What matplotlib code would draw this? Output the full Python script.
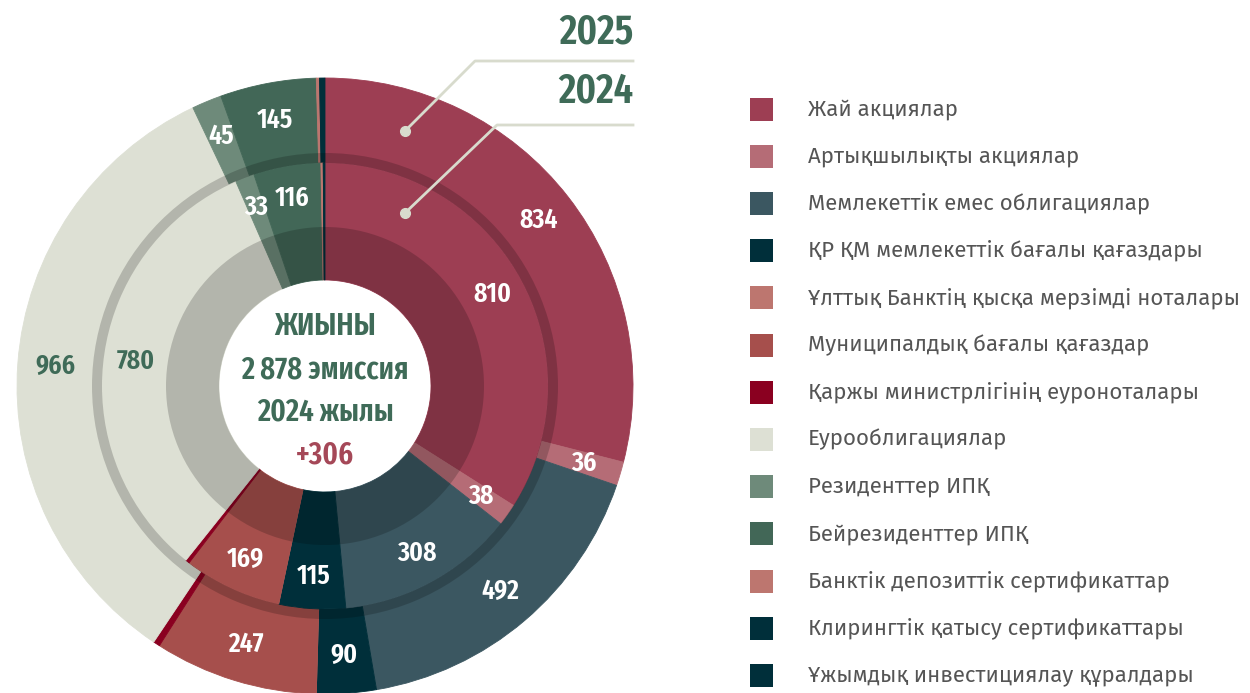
import numpy as np
import matplotlib

matplotlib.use('Agg')
import matplotlib.pyplot as plt
from matplotlib.patches import Wedge, Rectangle

# ---- data ----
categories = [
    'Жай акциялар',
    'Артықшылықты акциялар',
    'Мемлекеттік емес облигациялар',
    'ҚР ҚМ мемлекеттік бағалы қағаздары',
    'Ұлттық Банктің қысқа мерзімді ноталары',
    'Муниципалдық бағалы қағаздар',
    'Қаржы министрлігінің еуроноталары',
    'Еурооблигациялар',
    'Резиденттер ИПҚ',
    'Бейрезиденттер ИПҚ',
    'Банктік депозиттік сертификаттар',
    'Клирингтік қатысу сертификаттары',
    'Ұжымдық инвестициялау құралдары',
]
vals_2025 = [834, 36, 492, 90, 0, 247, 10, 966, 45, 145, 5, 0, 8]
vals_2024 = [810, 38, 308, 115, 0, 169, 7, 780, 33, 116, 4, 0, 3]
total_2025 = 2878
diff = 306

colors = ['#9d3e53', '#b56c76', '#3b5761', '#002f3a', '#bd766f', '#a64f4c',
          '#8a0020', '#dde0d4', '#6e8a7a', '#426757', '#bd766f', '#002f3a', '#002f3a']
GREEN = '#3f6b58'
NUM_FONT = ['Fira Sans Extra Condensed', 'Fira Sans Condensed', 'Roboto Condensed',
            'PT Sans Narrow', 'DejaVu Sans']
NUM_W = 600
TXT_FONT = ['Fira Sans', 'Noto Sans', 'DejaVu Sans']

W, H = 1250, 693
fig = plt.figure(figsize=(W / 100, H / 100), dpi=100)
ax = fig.add_axes([0, 0, 1, 1])
ax.set_xlim(0, W)
ax.set_ylim(0, H)
ax.set_aspect('equal')
ax.axis('off')

cx, cy = 325, H - 386
R_OUT, R_MID, R_IN = 308, 223, 106


def ring(vals, radius, width):
    wedges, _ = ax.pie(vals, colors=colors, radius=radius, center=(cx, cy),
                       startangle=90, counterclock=False, frame=True,
                       wedgeprops=dict(width=width, linewidth=0.6))
    for w in wedges:
        w.set_edgecolor(w.get_facecolor())
    return wedges


def add_labels(vals, r_lab, size):
    tot = sum(vals)
    acc = 0
    for v, name in zip(vals, categories):
        mid = acc + v / 2
        acc += v
        if v < 20:
            continue
        ang = np.deg2rad(90 - mid / tot * 360)
        col = GREEN if name == 'Еурооблигациялар' else 'white'
        ax.text(cx + r_lab * np.cos(ang), cy + r_lab * np.sin(ang), str(v),
                ha='center', va='center', color=col, fontsize=size,
                fontweight=NUM_W, family=NUM_FONT)


ring(vals_2025, R_OUT, R_OUT - R_MID)
ring(vals_2024, R_MID, R_MID - R_IN)
# dark bands
ax.add_patch(Wedge((cx, cy), 233, 0, 360, width=10, facecolor='black', alpha=0.19, lw=0))
ax.add_patch(Wedge((cx, cy), 159, 0, 360, width=159 - R_IN, facecolor='black', alpha=0.19, lw=0))
ax.set_xlim(0, W)
ax.set_ylim(0, H)

add_labels(vals_2025, 270, 20)
add_labels(vals_2024, 191, 20)

# centre text
CS = 22.5
ax.text(cx, H - 327, 'ЖИЫНЫ', ha='center', va='center', color=GREEN,
        fontsize=CS, fontweight=NUM_W, family=NUM_FONT)
ax.text(cx, H - 370, f'{total_2025:,}'.replace(',', ' ') + ' эмиссия', ha='center',
        va='center', color=GREEN, fontsize=CS, fontweight=NUM_W, family=NUM_FONT)
ax.text(cx, H - 412, '2024 жылы', ha='center', va='center', color=GREEN,
        fontsize=CS, fontweight=NUM_W, family=NUM_FONT)
ax.text(cx, H - 455, f'+{diff}', ha='center', va='center', color='#a54858',
        fontsize=CS, fontweight=NUM_W, family=NUM_FONT)

# year callouts
LINE = '#d8dbcd'
ax.plot([405, 475, 633], [H - 131, H - 61, H - 61], color=LINE, lw=2)
ax.plot([405], [H - 131], 'o', color=LINE, ms=7)
ax.plot([405, 497, 633], [H - 213, H - 125, H - 125], color=LINE, lw=2)
ax.plot([405], [H - 213], 'o', color=LINE, ms=7)
ax.text(633, H - 32, '2025', ha='right', va='center', color=GREEN, fontsize=30,
        fontweight=NUM_W, family=NUM_FONT)
ax.text(633, H - 91, '2024', ha='right', va='center', color=GREEN, fontsize=30,
        fontweight=NUM_W, family=NUM_FONT)

# legend
for i, (name, c) in enumerate(zip(categories, colors)):
    y = H - (109 + i * 47.2)
    ax.add_patch(Rectangle((750, y - 11.5), 23, 23, facecolor=c, lw=0))
    ax.text(808, y, name, ha='left', va='center', color='#555555',
            fontsize=16, family=TXT_FONT)

fig.savefig('out.png', dpi=100)
